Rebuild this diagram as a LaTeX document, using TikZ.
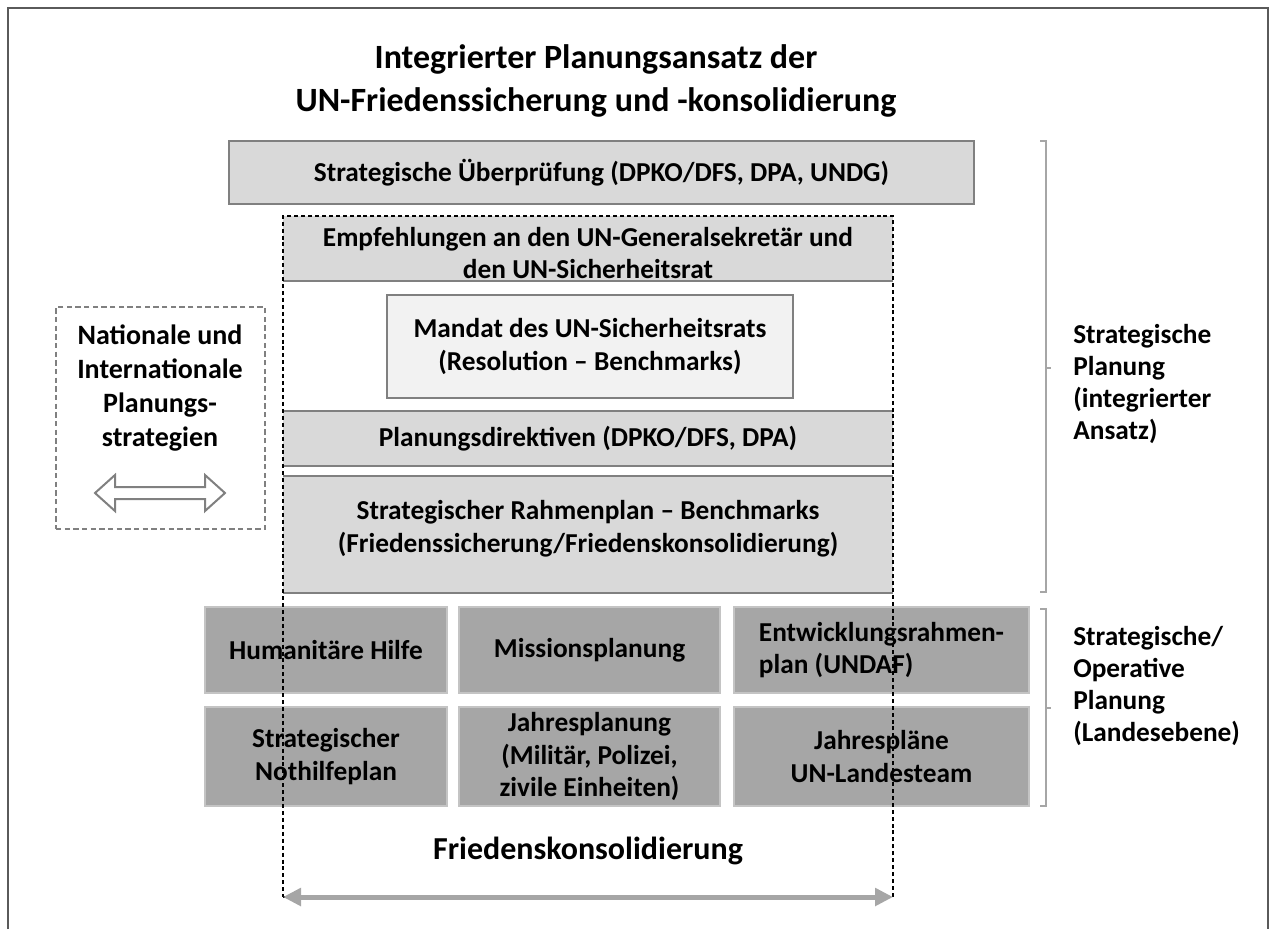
\documentclass[tikz,border=0pt]{standalone}
\usepackage{fontspec}
\setmainfont{Carlito}
\usetikzlibrary{arrows.meta}
\definecolor{lightg}{HTML}{D9D9D9}
\definecolor{paleg}{HTML}{F2F2F2}
\definecolor{darkg}{HTML}{A6A6A6}
\definecolor{edgeg}{HTML}{808080}
\definecolor{celledge}{HTML}{C4C4C4}
\definecolor{brackg}{HTML}{A6A6A6}
\definecolor{framec}{HTML}{5A5A5A}
\begin{document}
\begin{tikzpicture}[x=0.75pt,y=-0.75pt,
  wh/.style 2 args={minimum width=#1*0.75pt, minimum height=#2*0.75pt},
  bodyfont/.style={font=\fontsize{20.5}{24.5}\selectfont\bfseries},
  base/.style={anchor=north west, inner sep=0pt, outer sep=0pt, align=center, bodyfont},
  band/.style={base, fill=lightg},
  cell/.style={base, fill=darkg, draw=celledge, line width=1.5pt},
  grayline/.style={draw=edgeg, line width=1.5pt},
  brack/.style={draw=brackg, line width=1.4pt},
  sidetxt/.style={anchor=west, align=left, inner sep=0pt, font=\fontsize{20.5}{24}\selectfont\bfseries},
  peacearrow/.style={draw=darkg, line width=3.75pt, {Triangle[length=13.5pt,width=13pt]}-{Triangle[length=13.5pt,width=13pt]}},
]
\useasboundingbox (0,0) rectangle (1277,929);
\draw[framec, line width=1.3pt] (8,929) -- (8,8) -- (1268,8) -- (1268,929);

% title
\node[font=\fontsize{25.5}{32.5}\selectfont\bfseries, align=center] (title) at (596,81)
  {Integrierter Planungsansatz der\\UN-Friedenssicherung und -konsolidierung};

% strategic review
\node[base, wh={745}{63}, fill=lightg, draw=edgeg, line width=1.8pt] (review) at (229,141)
  {Strategische Überprüfung (DPKO/DFS, DPA, UNDG)};

% bands inside the dashed frame
\node[band, wh={610}{65}] (empf) at (283,216) {};
\draw[grayline] (empf.south west) -- (empf.south east);
\node[bodyfont, align=center] (empftxt) at (588,253)
  {Empfehlungen an den UN-Generalsekretär und\\den UN-Sicherheitsrat};

\node[base, wh={406}{103}, fill=paleg, draw=edgeg, line width=1.5pt] (mandat) at (387,295)
  {Mandat des UN-Sicherheitsrats\\(Resolution – Benchmarks)};

\node[band, wh={610}{55}] (direkt) at (283,411) {Planungsdirektiven (DPKO/DFS, DPA)};
\draw[grayline] (direkt.north west) -- (direkt.north east);
\draw[grayline] (direkt.south west) -- (direkt.south east);

\node[band, wh={610}{117}] (rahmen) at (283,476) {};
\draw[grayline] (rahmen.north west) -- (rahmen.north east);
\draw[grayline] (rahmen.south west) -- (rahmen.south east);
\node[bodyfont, align=center] (rahmentxt) at (588,529)
  {Strategischer Rahmenplan – Benchmarks\\(Friedenssicherung/Friedenskonsolidierung)};

% grid of country-level plans
\node[cell, wh={242}{86}] (huma) at (205,607) {Humanitäre Hilfe};
\node[cell, wh={261}{86}] (mission) at (459,607) {Missionsplanung};
\node[cell, wh={295}{86}, align=left] (undaf) at (734,607) {Entwicklungsrahmen-\\plan (UNDAF)};
\node[cell, wh={242}{99}] (nothilfe) at (205,707) {Strategischer\\Nothilfeplan};
\node[cell, wh={261}{99}] (jahr) at (459,707) {Jahresplanung\\(Militär, Polizei,\\zivile Einheiten)};
\node[cell, wh={295}{99}] (team) at (734,707) {Jahrespläne\\UN-Landesteam};

% dashed frame
\node[anchor=north west, inner sep=0pt, outer sep=0pt, wh={610}{681}, draw=black, line width=1pt,
  dash pattern=on 3pt off 2.2pt] (peace) at (283,216) {};

\node[font=\fontsize{24}{28}\selectfont\bfseries] (friedens) at (588,851) {Friedenskonsolidierung};
\draw[peacearrow] (peace.south west) -- (peace.south east);

% left box
\node[anchor=north west, inner sep=0pt, outer sep=0pt, wh={209}{222}, draw=edgeg, line width=1.2pt,
  dash pattern=on 4pt off 2.5pt] (natbox) at (56,307) {};
\node[font=\fontsize{21}{25.5}\selectfont\bfseries, align=center] (nattxt) at (160,388)
  {Nationale und\\Internationale\\Planungs-\\strategien};
\draw[draw=edgeg, fill=white, line width=1.5pt, line join=miter]
  (95,493) -- (115,475) -- (115,487) -- (205,487) -- (205,475) -- (225,493)
  -- (205,511) -- (205,499) -- (115,499) -- (115,511) -- cycle;

% right brackets
\draw[brack] (1040,141) -- (1046,141) -- (1046,592) -- (1040,592);
\draw[brack] (1046,368) -- (1051,368);
\draw[brack] (1040,609) -- (1046,609) -- (1046,806) -- (1040,806);
\draw[brack] (1046,708) -- (1051,708);

\node[sidetxt] (strat) at (1073,384) {Strategische\\Planung\\(integrierter\\Ansatz)};
\node[sidetxt] (oper) at (1073,686) {Strategische/\\Operative\\Planung\\(Landesebene)};
\end{tikzpicture}
\end{document}
